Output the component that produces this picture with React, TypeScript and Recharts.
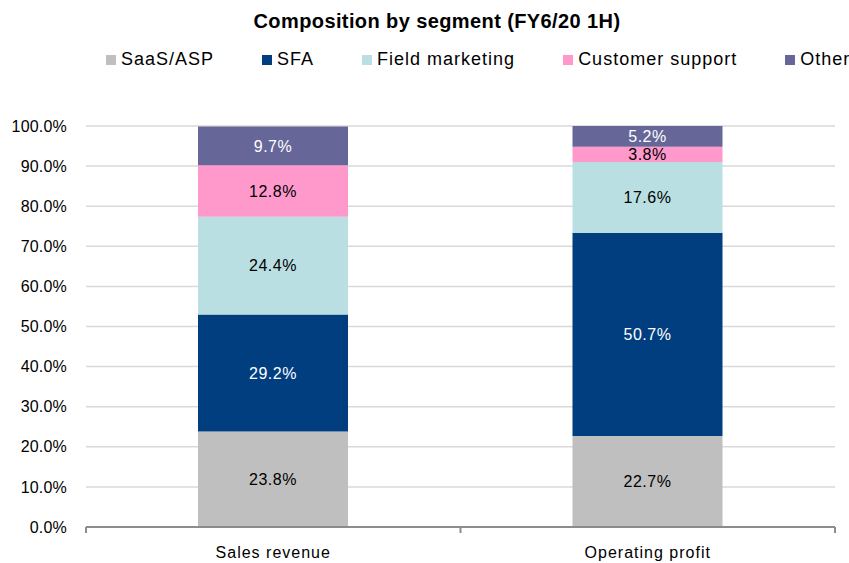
import { BarChart, Bar, XAxis, YAxis, CartesianGrid, LabelList } from 'recharts'

const categories = ['Sales revenue', 'Operating profit']

const saasAsp = [23.8, 22.7]
const sfa = [29.2, 50.7]
const fieldMarketing = [24.4, 17.6]
const customerSupport = [12.8, 3.8]
const other = [9.7, 5.2]

const yTicks = [0, 10, 20, 30, 40, 50, 60, 70, 80, 90, 100]

const series = [
	{ key: 'saasAsp', name: 'SaaS/ASP', values: saasAsp, color: '#bfbfbf', labelColor: '#000000' },
	{ key: 'sfa', name: 'SFA', values: sfa, color: '#003e80', labelColor: '#ffffff' },
	{ key: 'fieldMarketing', name: 'Field marketing', values: fieldMarketing, color: '#b9dfe3', labelColor: '#000000' },
	{ key: 'customerSupport', name: 'Customer support', values: customerSupport, color: '#ff99cc', labelColor: '#000000' },
	{ key: 'other', name: 'Other', values: other, color: '#666699', labelColor: '#ffffff' },
]

const data = categories.map((name, i) => {
	const row: Record<string, string | number> = { name }
	series.forEach((s) => {
		row[s.key] = s.values[i]
	})
	return row
})

const font = '"Liberation Sans", Arial, sans-serif'
const axisColor = '#8c8c8c'

function CategoryTick(props: any) {
	const { x, y, payload, index } = props
	const half = payload && payload.offset ? payload.offset : 187
	const last = index === categories.length - 1
	return (
		<g>
			<line x1={x - half} x2={x - half} y1={y} y2={y + 6} stroke={axisColor} strokeWidth={2} />
			{last && <line x1={x + half} x2={x + half} y1={y} y2={y + 6} stroke={axisColor} strokeWidth={2} />}
			<text
				x={x}
				y={y + 31}
				textAnchor="middle"
				fill="#000"
				style={{ fontFamily: font, fontSize: 16, letterSpacing: 1 }}
			>
				{payload.value}
			</text>
		</g>
	)
}

export default function App() {
	return (
		<div style={{ position: 'absolute', left: 0, top: 0, width: 849, height: 563, background: '#fff', fontFamily: font }}>
			<div
				style={{
					position: 'absolute',
					top: 10,
					left: 0,
					width: 874,
					textAlign: 'center',
					fontSize: 20,
					fontWeight: 'bold',
					letterSpacing: 0.4,
					color: '#000',
				}}
			>
				Composition by segment (FY6/20 1H)
			</div>
			<div
				style={{
					position: 'absolute',
					top: 49,
					left: 106,
					display: 'flex',
					gap: 48,
					fontSize: 18,
					letterSpacing: 1,
					color: '#000',
					whiteSpace: 'nowrap',
				}}
			>
				{series.map((s) => (
					<div key={s.key} style={{ display: 'flex', alignItems: 'center', gap: 5 }}>
						<span style={{ display: 'inline-block', width: 10, height: 10, background: s.color }} />
						<span>{s.name}</span>
					</div>
				))}
			</div>
			<BarChart
				width={849}
				height={563}
				data={data}
				margin={{ top: 126, right: 14, bottom: 6, left: 16 }}
				barSize={150}
			>
				<CartesianGrid vertical={false} stroke="#d9d9d9" strokeWidth={1.5} />
				<XAxis
					dataKey="name"
					tickLine={false}
					tickSize={0}
					tickMargin={0}
					height={30}
					axisLine={{ stroke: axisColor, strokeWidth: 2 }}
					tick={<CategoryTick />}
					interval={0}
				/>
				<YAxis
					type="number"
					domain={[0, 100]}
					ticks={yTicks}
					width={70}
					axisLine={false}
					tickLine={false}
					tickSize={0}
					tickMargin={19}
					tickFormatter={(v: number) => `${v.toFixed(1)}%`}
					tick={{ fill: '#000', fontSize: 16, fontFamily: font, letterSpacing: 0.2 }}
					allowDataOverflow
				/>
				{series.map((s) => (
					<Bar key={s.key} dataKey={s.key} name={s.name} stackId="a" fill={s.color} isAnimationActive={false}>
						<LabelList
							dataKey={s.key}
							position="center"
							formatter={(v: any) => `${Number(v).toFixed(1)}%`}
							fill={s.labelColor}
							style={{ fontFamily: font, fontSize: 16, letterSpacing: 0.5 }}
						/>
					</Bar>
				))}
			</BarChart>
		</div>
	)
}
